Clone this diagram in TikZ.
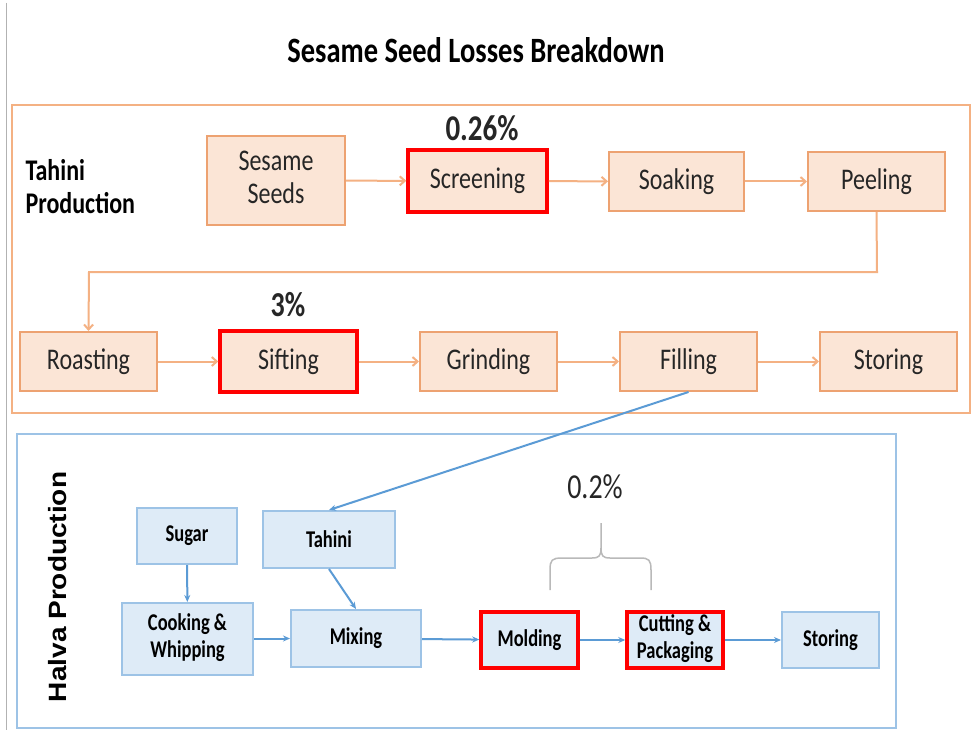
\documentclass[tikz,border=0pt]{standalone}
\usepackage{fontspec}
\setmainfont{Carlito}
\newfontfamily\arialb{Liberation Sans}
\usetikzlibrary{arrows.meta}
\definecolor{ofill}{HTML}{FBE5D6}
\definecolor{oline}{HTML}{EDA271}
\definecolor{oarrow}{HTML}{F4B183}
\definecolor{bfill}{HTML}{DEEBF7}
\definecolor{bline}{HTML}{9DC3E6}
\definecolor{barrow}{HTML}{5B9BD5}
\definecolor{txt}{HTML}{262626}
\newcommand\st[1]{\scalebox{1}[1.25]{#1}}
\newcommand\sth[1]{\scalebox{1}[1.3]{#1}}
\newcommand\stt[2]{\scalebox{1}[1.25]{\begin{tabular}{@{}c@{}}#1\\[0pt]#2\end{tabular}}}
\newcommand\sthh[2]{\scalebox{1}[1.3]{\begin{tabular}{@{}c@{}}#1\\[2pt]#2\end{tabular}}}
\tikzset{
  obox/.style={draw=oline, fill=ofill, line width=2pt, inner sep=0pt, text=txt,
    font=\fontsize{24}{26}\selectfont, align=center},
  bbox/.style={draw=bline, fill=bfill, line width=2pt, inner sep=0pt, text=black,
    font=\fontsize{18.5}{19}\selectfont\bfseries, align=center},
  hot/.style={draw=red, line width=3.5pt},
  oarr/.style={draw=oarrow, line width=2pt, -{Straight Barb[length=5pt,width=9pt]}},
  barr/.style={draw=barrow, line width=2pt, -{Stealth[length=7pt,width=6pt]}},
}
\begin{document}
\begin{tikzpicture}[x=1pt,y=-1pt]
\useasboundingbox (0,0) rectangle (972,730);
\fill[white] (0,0) rectangle (972,730);
\draw[gray!60, line width=1pt] (6,3) -- (6,730);

% title
\node[font=\fontsize{28.5}{30}\selectfont\bfseries, text=black] (title) at (476,50) {\st{Sesame Seed Losses Breakdown}};

% frames
\draw[oarrow, line width=2pt] (12,105) rectangle (970,413);
\draw[bline, line width=2pt] (17,434) rectangle (896,728);

\node[font=\fontsize{24}{29}\selectfont\bfseries, align=left, anchor=west, text=black] (tp) at (22,187) {\st{Tahini}\\[4pt]\st{Production}};

% tahini row 1
\node[obox, minimum width=138pt, minimum height=89pt] (seeds) at (276,180.5) {\stt{Sesame}{Seeds}};
\node[obox, hot, fill=ofill, minimum width=139pt, minimum height=62pt] (screen) at (477.5,181) {\st{Screening}};
\node[obox, minimum width=135pt, minimum height=59pt] (soak) at (676.5,181.5) {\st{Soaking}};
\node[obox, minimum width=137pt, minimum height=59pt] (peel) at (876.5,181.5) {\st{Peeling}};
% row 2
\node[obox, minimum width=137pt, minimum height=59pt] (roast) at (88.5,361.5) {\st{Roasting}};
\node[obox, hot, fill=ofill, minimum width=137pt, minimum height=61pt] (sift) at (288.5,361.5) {\st{Sifting}};
\node[obox, minimum width=137pt, minimum height=59pt] (grind) at (488.5,361.5) {\st{Grinding}};
\node[obox, minimum width=137pt, minimum height=59pt] (fill) at (688.5,361.5) {\st{Filling}};
\node[obox, minimum width=137pt, minimum height=59pt] (store) at (888.5,361.5) {\st{Storing}};

\node[font=\fontsize{29}{30}\selectfont\bfseries, text=txt] (p1) at (482,128) {\st{0.26\%}};
\node[font=\fontsize{28}{30}\selectfont\bfseries, text=txt] (p2) at (288,305) {\st{3\%}};

\draw[oarr] (seeds) -- (screen);
\draw[oarr] (screen) -- (soak);
\draw[oarr] (soak) -- (peel);
\coordinate (c1) at (877,272);
\coordinate (c2) at (89,272);
\draw[oarr] (peel.south) -- (c1) -- (c2) -- (roast.north);
\draw[oarr] (roast) -- (sift);
\draw[oarr] (sift) -- (grind);
\draw[oarr] (grind) -- (fill);
\draw[oarr] (fill) -- (store);

% halva
\node[rotate=90, font=\fontsize{25}{26}\selectfont\arialb\bfseries, text=black] (hp) at (58,587) {\scalebox{1.12}[1]{Halva Production}};

\node[bbox, minimum width=100pt, minimum height=56pt] (sugar) at (187,536) {\sth{Sugar}};
\node[bbox, minimum width=132pt, minimum height=57pt] (tahini) at (329,539.5) {\sth{Tahini}};
\node[bbox, minimum width=131pt, minimum height=72pt] (cook) at (187.5,639) {\sthh{Cooking \&}{Whipping}};
\node[bbox, minimum width=130pt, minimum height=57pt] (mix) at (356,638.5) {\sth{Mixing}};
\node[bbox, hot, fill=bfill, minimum width=97pt, minimum height=56pt] (mold) at (529.5,640) {\sth{Molding}};
\node[bbox, hot, fill=bfill, minimum width=96pt, minimum height=56pt] (cut) at (675,640) {\sthh{Cutting \&}{Packaging}};
\node[bbox, minimum width=97pt, minimum height=56pt] (hstore) at (830.5,640) {\sth{Storing}};

\node[font=\fontsize{28}{30}\selectfont, text=txt] (p3) at (595,487) {\st{0.2\%}};
\draw[gray!55, line width=1.5pt] (550,590) -- (550,570) .. controls (550,560) and (552,558) .. (562,558) -- (592,558) .. controls (599,558) and (601,556) .. (601,548) -- (601,523);
\draw[gray!55, line width=1.5pt] (601,548) .. controls (601,556) and (603,558) .. (610,558) -- (640,558) .. controls (649,558) and (651,560) .. (651,570) -- (651,590);

\draw[barr] (fill.south) -- (tahini.north);
\draw[barr] (tahini.south) -- (mix.north);
\draw[barr] (sugar) -- (cook);
\draw[barr] (cook.east |- mix.west) -- (mix.west);
\draw[barr] (mix) -- (mold);
\draw[barr] (mold) -- (cut);
\draw[barr] (cut) -- (hstore);
\end{tikzpicture}
\end{document}
